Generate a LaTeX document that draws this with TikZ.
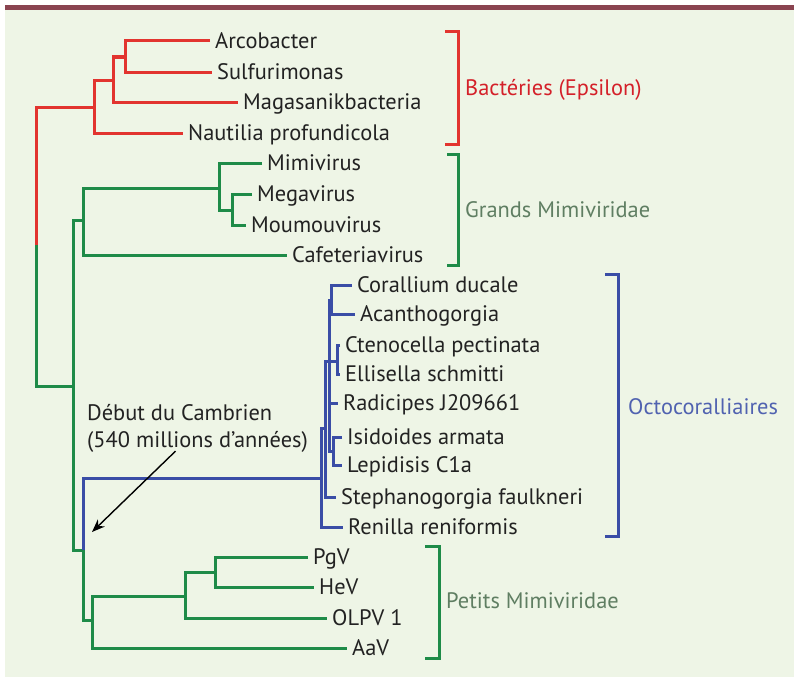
\documentclass[tikz,border=0pt]{standalone}
\usepackage{fontspec}
\setmainfont{PT Sans}
\usetikzlibrary{arrows.meta}
\definecolor{bg}{HTML}{EEF5E6}
\definecolor{bar}{HTML}{8A4450}
\definecolor{tred}{HTML}{E2342F}
\definecolor{tgreen}{HTML}{1E8B48}
\definecolor{tblue}{HTML}{3A4DA6}
\definecolor{lred}{HTML}{D42029}
\definecolor{lgreen}{HTML}{5F7E62}
\definecolor{lblue}{HTML}{5062B0}
\definecolor{ink}{HTML}{222222}
\begin{document}
\begin{tikzpicture}[x=1pt,y=-1pt,
  br/.style={line width=3pt},
  rbr/.style={br,tred},
  gbr/.style={br,tgreen},
  bbr/.style={br,tblue},
  leaf/.style={anchor=west,inner xsep=5pt,inner ysep=0pt,text height=15.5pt,text depth=0pt,
     font=\fontsize{22.4}{26}\selectfont,text=ink},
  grp/.style={anchor=west,inner sep=0pt,text height=15.5pt,text depth=0pt,font=\fontsize{22.4}{26}\selectfont},
  note/.style={anchor=base west,inner sep=0pt,font=\fontsize{22.4}{26}\selectfont,text=ink}]
\useasboundingbox (0,0) rectangle (794,677);
\fill[white] (0,0) rectangle (794,677);
\fill[bg] (5,10) rectangle (794,677);
\fill[bar] (5,5) rectangle (794,10);

% leaves
\node[leaf] (arco) at (210,41) {Arcobacter};
\node[leaf] (sulf) at (212,72) {Sulfurimonas};
\node[leaf] (maga) at (238,102) {Magasanikbacteria};
\node[leaf] (naut) at (183,133) {Nautilia profundicola};
\node[leaf] (mimi) at (262,163) {Mimivirus};
\node[leaf] (mega) at (252,194) {Megavirus};
\node[leaf] (moum) at (246,225) {Moumouvirus};
\node[leaf] (cafe) at (287,255) {Cafeteriavirus};
\node[leaf] (cora) at (352,285) {Corallium ducale};
\node[leaf] (acan) at (355,314) {Acanthogorgia};
\node[leaf] (cten) at (340,345) {Ctenocella pectinata};
\node[leaf] (elli) at (340,374) {Ellisella schmitti};
\node[leaf] (radi) at (338,403) {Radicipes J209661};
\node[leaf] (isid) at (342,437) {Isidoides armata};
\node[leaf] (lepi) at (342,465) {Lepidisis C1a};
\node[leaf] (step) at (336,497) {Stephanogorgia faulkneri};
\node[leaf] (reni) at (343,527) {Renilla reniformis};
\node[leaf] (pgv) at (308,557) {PgV};
\node[leaf] (hev) at (314,587) {HeV};
\node[leaf] (olpv) at (327,618) {OLPV 1};
\node[leaf] (aav) at (347,648) {AaV};

% internal nodes
\coordinate (c1) at (125,57);
\coordinate (c2) at (113,80);
\coordinate (c3) at (94,107);
\coordinate (rs) at (36,245);
\coordinate (g0) at (73,386);
\coordinate (m1) at (232,210);
\coordinate (m2) at (219,188);
\coordinate (m3) at (83,220);
\coordinate (g1) at (83,550);
\coordinate (p1) at (215,572);
\coordinate (p2) at (185,596);
\coordinate (p3) at (92,620);
\coordinate (o0) at (321,478);
\coordinate (o1) at (325,428);
\coordinate (o2) at (329,361);
\coordinate (o2r) at (329,403);
\coordinate (u1) at (331,300);
\coordinate (u2) at (337,361);
\coordinate (u3) at (333,451);

% red clade
\draw[rbr] (arco.west) -| (c1) |- (sulf.west);
\draw[rbr] (c1) -| (c2) |- (maga.west);
\draw[rbr] (c2) -| (c3) |- (naut.west);
\draw[rbr] (c3) -| (rs);
\draw[gbr] (rs) |- (g0);

% grands mimiviridae
\draw[gbr] (mega.west) -| (m1) |- (moum.west);
\draw[gbr] (mimi.west) -| (m2) |- (m1);
\draw[gbr] (m2) -| (m3) |- (cafe.west);
\draw[gbr] (m3) -| (g0) |- (g1);

% petits mimiviridae
\draw[gbr] (pgv.west) -| (p1) |- (hev.west);
\draw[gbr] (p1) -| (p2) |- (olpv.west);
\draw[gbr] (p2) -| (p3) |- (aav.west);
\draw[gbr] (p3) -| (g1);

% octocoralliaires
\draw[bbr] (g1) |- (o0);
\draw[bbr] (cora.west) -| (u1) |- (acan.west);
\draw[bbr] (cten.west) -| (u2) |- (elli.west);
\draw[bbr] (isid.west) -| (u3) |- (lepi.west);
\draw[bbr] (u1) -| (o2) |- (u3);
\draw[bbr] (o2) -- (u2);
\draw[bbr] (o2r) -- (radi.west);
\draw[bbr] (o2) -| (o1) |- (step.west);
\draw[bbr] (o1) -| (o0) |- (reni.west);

% brackets
\draw[rbr] (445,32) -- (458,32) -- (458,144) -- (445,144);
\draw[gbr] (447,154) -- (458,154) -- (458,265) -- (447,265);
\draw[bbr] (605,274) -- (618,274) -- (618,536) -- (605,536);
\draw[gbr] (425,546) -- (439,546) -- (439,658) -- (425,658);
\node[grp,text=lred] (lbact) at (465,88) {Bactéries (Epsilon)};
\node[grp,text=lgreen] (lgrand) at (465,210) {Grands Mimiviridae};
\node[grp,text=lblue] (locto) at (628,407) {Octocoralliaires};
\node[grp,text=lgreen] (lpetit) at (446,601) {Petits Mimiviridae};

% annotation
\node[note] (cam1) at (87,420) {Début du Cambrien};
\node[note] (cam2) at (87,447) {(540 millions d’années)};
\coordinate (tip) at (92,532);
\draw[line width=1.4pt,-{Stealth[length=13pt,width=10pt]}] ([xshift=-22pt,yshift=1pt]cam2.south) -- (tip);
\end{tikzpicture}
\end{document}
